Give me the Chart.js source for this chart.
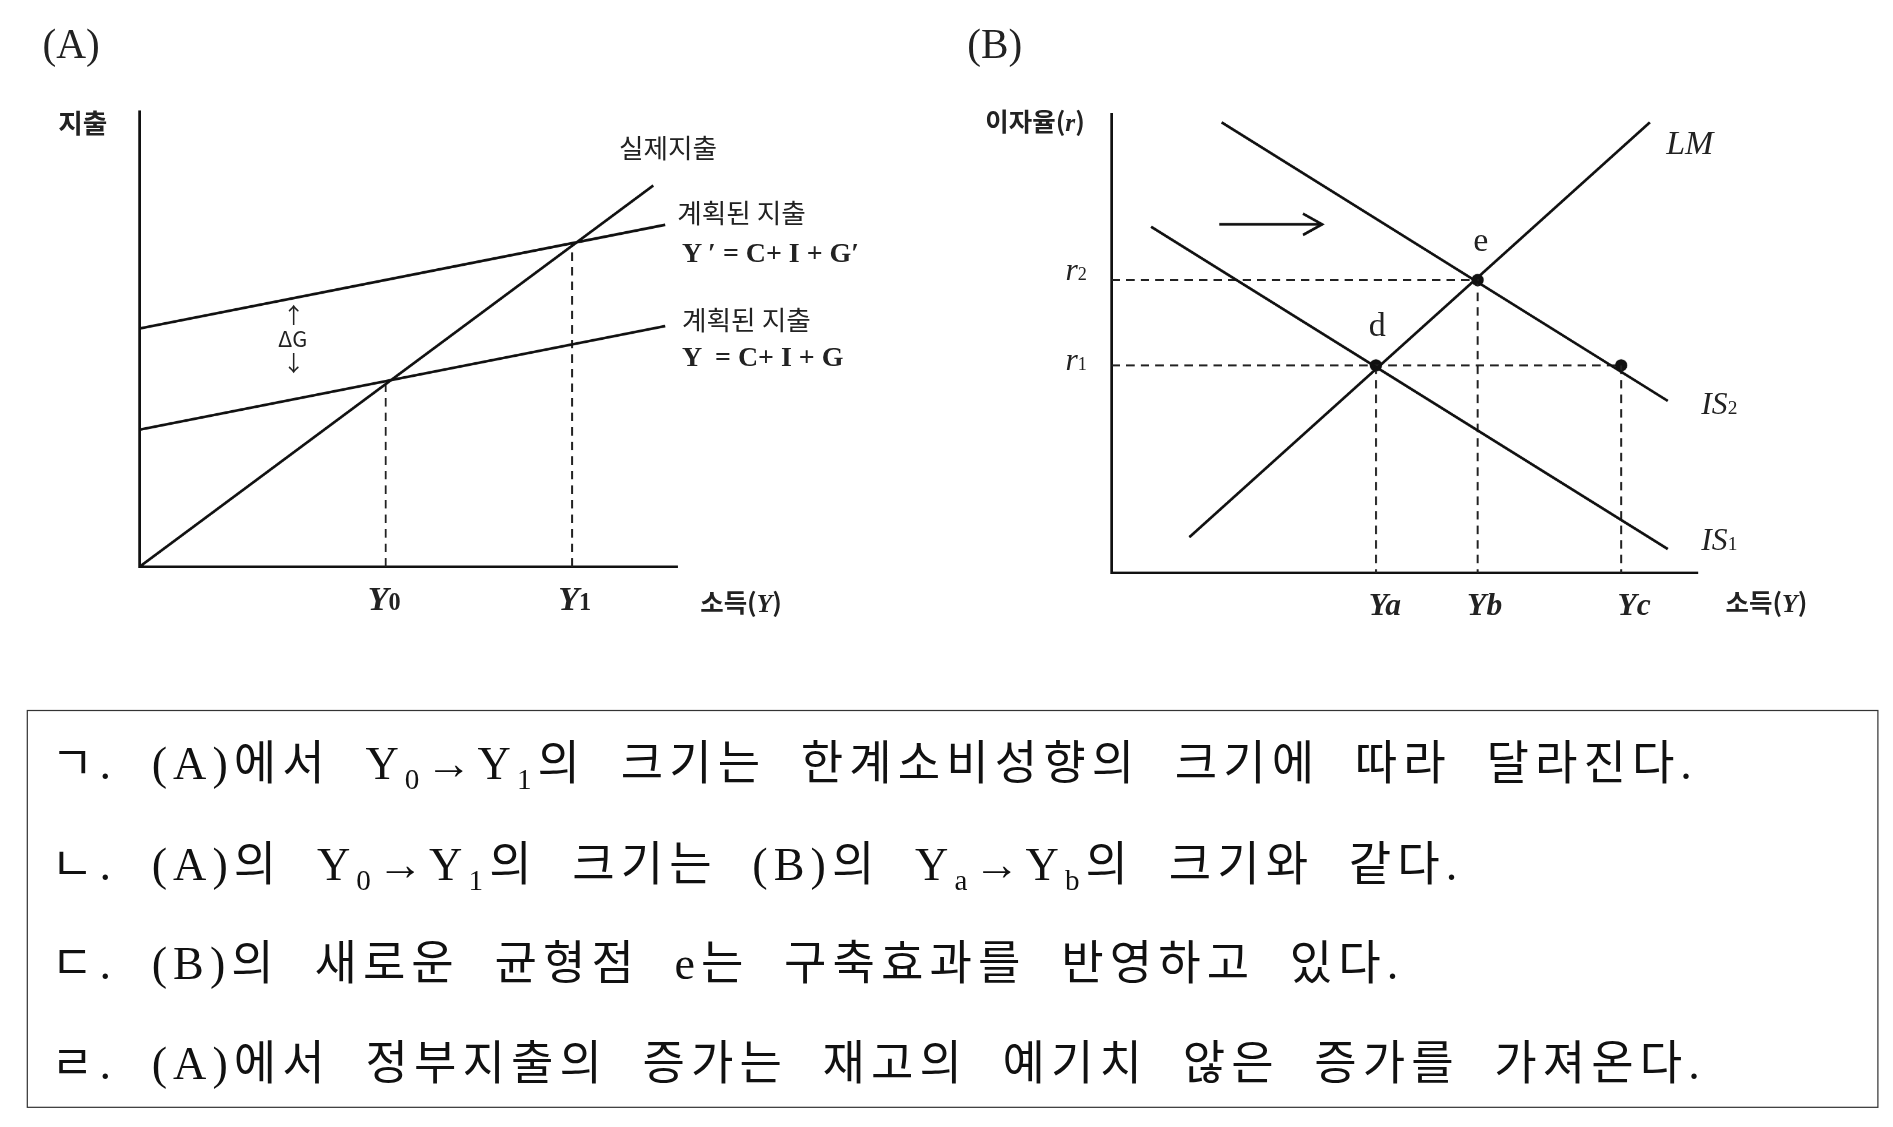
<!DOCTYPE html>
<html><head><meta charset="utf-8">
<script src="https://cdn.jsdelivr.net/npm/chart.js@4"></script>
<style>
html,body{margin:0;background:#fff;overflow:hidden}
#wrap{position:absolute;left:0;top:0;width:1560px;height:930px;transform:scale(1.2135);transform-origin:0 0}
.l{position:absolute;white-space:nowrap;font-family:"Noto Sans CJK KR",sans-serif;color:#222}
.s{font-family:"Liberation Serif","Noto Sans CJK KR",serif}
canvas{position:absolute}
#box{position:absolute;left:22px;top:585px;width:1524px;height:326px;border:1.5px solid #333}
.t{position:absolute;left:22px;font-family:"Liberation Serif","Noto Sans CJK KR",serif;font-size:38px;color:#111;letter-spacing:5px;word-spacing:14px}
</style></head><body><div id="wrap">
<div class="l s" style="left:35px;top:18px;font-size:34px">(A)</div>
<div class="l s" style="left:797px;top:18px;font-size:34px">(B)</div>
<canvas id="ca" style="left:98px;top:82px;width:470px;height:404px"></canvas>
<canvas id="cb" style="left:899px;top:84px;width:510px;height:407px"></canvas>
<!-- A labels -->
<div class="l" style="left:48px;top:84px;font-size:22px;font-weight:bold">지출</div>
<div class="l" style="left:510px;top:104px;font-size:22px">실제지출</div>
<div class="l" style="left:558px;top:158px;font-size:22px">계획된 지출</div>
<div class="l s" style="left:562px;top:196px;font-size:23px;font-weight:bold">Y ′ = C+ I + G′</div>
<div class="l" style="left:562px;top:246px;font-size:22px">계획된 지출</div>
<div class="l s" style="left:562px;top:282px;font-size:23px;font-weight:bold">Y &nbsp;= C+ I + G</div>
<div class="l" style="left:229px;top:248px;font-size:18px;line-height:20px">&nbsp;↑<br>ΔG<br>&nbsp;↓</div>
<div class="l s" style="left:303px;top:478px;font-size:28px;font-weight:bold;font-style:italic">Y<span style="font-size:20px;font-style:normal">0</span></div>
<div class="l s" style="left:460px;top:478px;font-size:28px;font-weight:bold;font-style:italic">Y<span style="font-size:20px;font-style:normal">1</span></div>
<div class="l" style="left:577px;top:480px;font-size:21px;font-weight:bold">소득(<i class="s">Y</i>)</div>
<!-- B labels -->
<div class="l" style="left:812px;top:84px;font-size:21px;font-weight:bold">이자율(<i class="s">r</i>)</div>
<div class="l s" style="left:1373px;top:102px;font-size:28px;font-style:italic">LM</div>
<div class="l s" style="left:1402px;top:318px;font-size:26px;font-style:italic">IS<span style="font-size:16px;font-style:normal">2</span></div>
<div class="l s" style="left:1402px;top:430px;font-size:26px;font-style:italic">IS<span style="font-size:16px;font-style:normal">1</span></div>
<div class="l s" style="left:878px;top:208px;font-size:26px;font-style:italic">r<span style="font-size:15px;font-style:normal">2</span></div>
<div class="l s" style="left:878px;top:282px;font-size:26px;font-style:italic">r<span style="font-size:15px;font-style:normal">1</span></div>
<div class="l s" style="left:1214px;top:182px;font-size:28px">e</div>
<div class="l s" style="left:1128px;top:252px;font-size:28px">d</div>
<div class="l s" style="left:1128px;top:484px;font-size:26px;font-weight:bold;font-style:italic">Ya</div>
<div class="l s" style="left:1209px;top:484px;font-size:26px;font-weight:bold;font-style:italic">Yb</div>
<div class="l s" style="left:1333px;top:484px;font-size:26px;font-weight:bold;font-style:italic">Yc</div>
<div class="l" style="left:1422px;top:480px;font-size:21px;font-weight:bold">소득(<i class="s">Y</i>)</div>
<div id="box"></div>
<div class="t" style="top:598px;left:42px">ㄱ. (A)에서 Y<sub style="font-size:24px">0</sub>→Y<sub style="font-size:24px">1</sub>의 크기는 한계소비성향의 크기에 따라 달라진다.</div>
<div class="t" style="top:681px;left:42px">ㄴ. (A)의 Y<sub style="font-size:24px">0</sub>→Y<sub style="font-size:24px">1</sub>의 크기는 (B)의 Y<sub style="font-size:24px">a</sub>→Y<sub style="font-size:24px">b</sub>의 크기와 같다.</div>
<div class="t" style="top:763px;left:42px">ㄷ. (B)의 새로운 균형점 e는 구축효과를 반영하고 있다.</div>
<div class="t" style="top:845px;left:42px">ㄹ. (A)에서 정부지출의 증가는 재고의 예기치 않은 증가를 가져온다.</div>
</div>
<script>
// Panel A (income, expenditure)
const actualA = [[0, 0], [43, 32]];
const plannedG2 = [[0, 20], [44, 28.7]];
const plannedG1 = [[0, 11.5], [44, 20.2]];
const Y0 = 20.6, Y0exp = 15.6;
const Y1 = 36.2, Y1exp = 27.2;
// Panel B (income, interest rate)
const LM = [[6.5, 3], [45, 38]];
const IS1 = [[3.3, 29.2], [46.5, 2]];
const IS2 = [[9.2, 38], [46.5, 14.5]];
const r1 = 17.5, r2 = 24.7;
const Ya = 22.1, Yb = 30.6, Yc = 42.6;
const arrowB = [[9, 29.4], [17.6, 29.4]];

const pts = a => a.map(p => ({x: p[0], y: p[1]}));
const solid = (a) => ({data: pts(a), showLine: true, borderColor: '#111', borderWidth: 2.2, pointRadius: 0});
const dash = (a) => ({data: pts(a), showLine: true, borderColor: '#222', borderWidth: 1.6, borderDash: [7, 5], pointRadius: 0});
function axes(xmax, ymax) {
  const ax = {grid: {display: false}, ticks: {display: false}, border: {color: '#111', width: 2}};
  return {x: {...ax, type: 'linear', min: 0, max: xmax}, y: {...ax, min: 0, max: ymax}};
}
function opts(xmax, ymax, pad) {
  return {animation: false, responsive: false, devicePixelRatio: 2, clip: false,
    layout: {padding: pad}, plugins: {legend: {display: false}, tooltip: {enabled: false}},
    scales: axes(xmax, ymax)};
}
function mk(id, w, h) {
  const c = document.getElementById(id); c.width = w; c.height = h; return c;
}
new Chart(mk('ca', 470, 404), {type: 'scatter', data: {datasets: [
  solid(actualA), solid(plannedG2), solid(plannedG1),
  dash([[Y0, 0], [Y0, Y0exp]]), dash([[Y1, 0], [Y1, Y1exp]])
]}, options: opts(45, 38.2, {left: 9, top: 10, right: 10, bottom: 11})});

new Chart(mk('cb', 510, 407), {type: 'scatter', data: {datasets: [
  solid(LM), solid(IS1), solid(IS2),
  dash([[0, r2], [Yb, r2], [Yb, 0]]), dash([[0, r1], [Yc, r1], [Yc, 0]]), dash([[Ya, r1], [Ya, 0]]),
  {data: pts([[Ya, r1], [Yb, r2], [Yc, r1]]), backgroundColor: '#111', pointRadius: 5},
  solid(arrowB), solid([[16, 30.3], [17.6, 29.4], [16, 28.5]])
]}, options: opts(49, 38.7, {left: 9, top: 10, right: 10, bottom: 11})});
</script></body></html>
